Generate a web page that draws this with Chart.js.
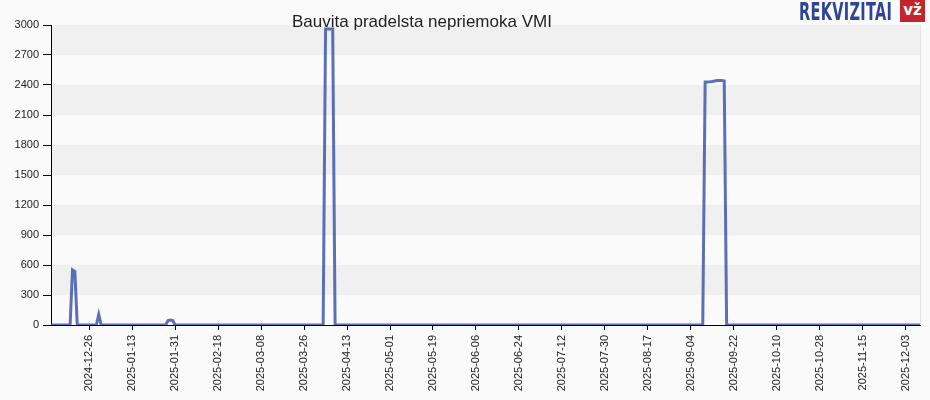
<!DOCTYPE html>
<html>
<head>
<meta charset="utf-8">
<script src="https://cdn.jsdelivr.net/npm/chart.js@4.4.1/dist/chart.umd.min.js"></script>
<style>
  html, body { margin: 0; padding: 0; background: #fafafa; }
  #wrap { position: relative; width: 930px; height: 400px; }
  #title {
    position: absolute; left: 292px; top: 12px;
    font: 17px "Liberation Sans", Arial, sans-serif; color: #222;
  }
  #logo {
    position: absolute; left: 799px; top: -3px;
    font: bold 26px "DejaVu Sans Condensed", "DejaVu Sans", sans-serif;
    color: #2e4596; transform: scale(0.62, 0.95); transform-origin: left top;
    letter-spacing: 0.5px; white-space: nowrap;
  }
  #badge {
    position: absolute; left: 900px; top: 0; width: 25px; height: 22px;
    background: #c4242d; color: #fff; text-align: center;
    font: bold 15px "DejaVu Sans", sans-serif; line-height: 20px;
  }
</style>
</head>
<body>
<div id="wrap">
  <canvas id="vmiChart" width="930" height="400"></canvas>
  <div id="title">Bauvita pradelsta nepriemoka VMI</div>
  <div id="logo">REKVIZITAI</div>
  <div id="badge">vž</div>
</div>
<script>
const startDate = "2024-12-10";

// daily values, 2024-12-10 .. 2025-12-09
const debtValues = [
  0, 0, 0, 0, 0, 0, 0, 0, 0, 550, 535, 0, 0, 0, 0, 0, 0, 0, 0, 0,
  105, 0, 0, 0, 0, 0, 0, 0, 0, 0, 0, 0, 0, 0, 0, 0, 0, 0, 0, 0,
  0, 0, 0, 0, 0, 0, 0, 0, 0, 45, 50, 45, 0, 0, 0, 0, 0, 0, 0, 0,
  0, 0, 0, 0, 0, 0, 0, 0, 0, 0, 0, 0, 0, 0, 0, 0, 0, 0, 0, 0,
  0, 0, 0, 0, 0, 0, 0, 0, 0, 0, 0, 0, 0, 0, 0, 0, 0, 0, 0, 0,
  0, 0, 0, 0, 0, 0, 0, 0, 0, 0, 0, 0, 0, 0, 0, 2960, 2960, 2960, 2960, 0,
  0, 0, 0, 0, 0, 0, 0, 0, 0, 0, 0, 0, 0, 0, 0, 0, 0, 0, 0, 0,
  0, 0, 0, 0, 0, 0, 0, 0, 0, 0, 0, 0, 0, 0, 0, 0, 0, 0, 0, 0,
  0, 0, 0, 0, 0, 0, 0, 0, 0, 0, 0, 0, 0, 0, 0, 0, 0, 0, 0, 0,
  0, 0, 0, 0, 0, 0, 0, 0, 0, 0, 0, 0, 0, 0, 0, 0, 0, 0, 0, 0,
  0, 0, 0, 0, 0, 0, 0, 0, 0, 0, 0, 0, 0, 0, 0, 0, 0, 0, 0, 0,
  0, 0, 0, 0, 0, 0, 0, 0, 0, 0, 0, 0, 0, 0, 0, 0, 0, 0, 0, 0,
  0, 0, 0, 0, 0, 0, 0, 0, 0, 0, 0, 0, 0, 0, 0, 0, 0, 0, 0, 0,
  0, 0, 0, 0, 0, 0, 0, 0, 0, 0, 0, 0, 0, 0, 2430, 2430, 2432, 2435, 2440, 2445,
  2445, 2445, 2440, 0, 0, 0, 0, 0, 0, 0, 0, 0, 0, 0, 0, 0, 0, 0, 0, 0,
  0, 0, 0, 0, 0, 0, 0, 0, 0, 0, 0, 0, 0, 0, 0, 0, 0, 0, 0, 0,
  0, 0, 0, 0, 0, 0, 0, 0, 0, 0, 0, 0, 0, 0, 0, 0, 0, 0, 0, 0,
  0, 0, 0, 0, 0, 0, 0, 0, 0, 0, 0, 0, 0, 0, 0, 0, 0, 0, 0, 0,
  0, 0, 0, 0, 0,
];

const tickLabels = [
  "2024-12-26", "2025-01-13", "2025-01-31", "2025-02-18", "2025-03-08",
  "2025-03-26", "2025-04-13", "2025-05-01", "2025-05-19", "2025-06-06",
  "2025-06-24", "2025-07-12", "2025-07-30", "2025-08-17", "2025-09-04",
  "2025-09-22", "2025-10-10", "2025-10-28", "2025-11-15", "2025-12-03",
];

const bandStarts = [300, 900, 1500, 2100, 2700];
const bandSize = 300;

const dates = [];
const d0 = new Date(startDate + "T00:00:00Z");
for (let i = 0; i < debtValues.length; i++) {
  const d = new Date(d0.getTime() + i * 86400000);
  dates.push(d.toISOString().slice(0, 10));
}

const bandsPlugin = {
  id: "bands",
  beforeDraw(chart) {
    const { ctx, chartArea, scales } = chart;
    ctx.save();
    ctx.fillStyle = "#f0f0f0";
    bandStarts.forEach(function (v) {
      const y1 = scales.y.getPixelForValue(v + bandSize);
      const y2 = scales.y.getPixelForValue(v);
      ctx.fillRect(chartArea.left, y1, chartArea.right - chartArea.left, y2 - y1);
    });
    ctx.strokeStyle = "#e4e4e4";
    ctx.lineWidth = 1;
    ctx.beginPath();
    ctx.moveTo(chartArea.right + 0.5, chartArea.top);
    ctx.lineTo(chartArea.right + 0.5, chartArea.bottom);
    ctx.stroke();
    ctx.restore();
  },
};

const font = { family: "'Liberation Sans', Arial, sans-serif", size: 11 };

new Chart(document.getElementById("vmiChart").getContext("2d"), {
  type: "line",
  data: {
    labels: dates,
    datasets: [
      {
        data: debtValues,
        borderColor: "rgba(52, 77, 168, 0.8)",
        borderWidth: 3,
        pointRadius: 0,
        tension: 0,
        fill: false,
      },
    ],
  },
  options: {
    responsive: false,
    animation: false,
    devicePixelRatio: 1,
    layout: { padding: { top: 25, right: 10, left: 0, bottom: 0 } },
    plugins: {
      legend: { display: false },
      tooltip: { enabled: false },
    },
    scales: {
      x: {
        afterFit(scale) { scale.height = 75; },
        border: { color: "#000", width: 1 },
        grid: { drawOnChartArea: false, tickLength: 5, color: "#000" },
        ticks: {
          autoSkip: false,
          maxRotation: 90,
          minRotation: 90,
          padding: 5,
          color: "#222",
          font: font,
          callback: function (value) {
            const lbl = this.getLabelForValue(value);
            return tickLabels.includes(lbl) ? lbl : null;
          },
        },
      },
      y: {
        min: 0,
        max: 3000,
        afterFit(scale) { scale.width = 51; },
        border: { color: "#000", width: 1 },
        grid: { drawOnChartArea: false, tickLength: 8, color: "#000" },
        ticks: {
          stepSize: 300,
          padding: 4,
          color: "#222",
          font: font,
          callback: function (value) { return String(value); },
        },
      },
    },
  },
  plugins: [bandsPlugin],
});
</script>
</body>
</html>
